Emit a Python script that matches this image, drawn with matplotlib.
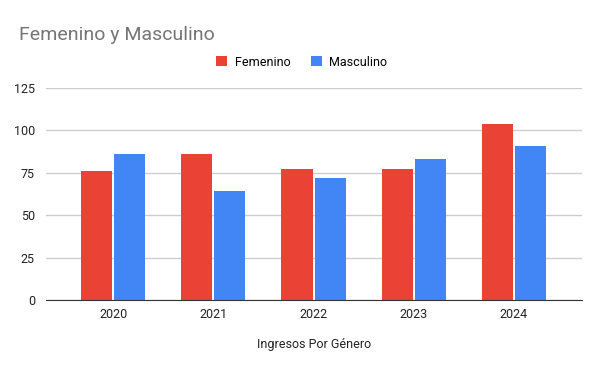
import numpy as np
import matplotlib.pyplot as plt

plt.rcParams['font.family'] = ['Roboto', 'DejaVu Sans']

years = ['2020', '2021', '2022', '2023', '2024']
femenino = [76, 86, 77, 77, 104]
masculino = [86, 64, 72, 83, 91]

red = '#EA4335'
blue = '#4285F4'

fig = plt.figure(figsize=(6, 3.71), dpi=100)
ax = fig.add_axes([0.0767, 0.1914, 0.8933, 0.5714])

x = np.arange(len(years))
w = 0.31
ax.bar(x - w / 2 - 0.01, femenino, w, color=red, label='Femenino')
ax.bar(x + w / 2 + 0.01, masculino, w, color=blue, label='Masculino')

ax.set_xlim(-0.67, 4.68)
ax.set_ylim(0, 125)
ax.set_yticks([0, 25, 50, 75, 100, 125])
ax.set_xticks(x)
ax.set_xticklabels(years)
ax.grid(axis='y', color='#cccccc', linewidth=1)
ax.set_axisbelow(True)
for s in ['top', 'right', 'left']:
    ax.spines[s].set_visible(False)
ax.spines['bottom'].set_color('#333333')
ax.spines['bottom'].set_zorder(5)
ax.tick_params(axis='both', length=0, labelsize=9, colors='#222222')
ax.tick_params(axis='x', pad=6)
ax.tick_params(axis='y', pad=8)
ax.set_xlabel('Ingresos Por Género', fontsize=9, color='#222222', labelpad=12)

fig.text(0.032, 1 - 35 / 371, 'Femenino y Masculino', fontsize=14, color='#757575',
         va='center', ha='left')
fig.legend(loc='center', bbox_to_anchor=(0.503, 1 - 62 / 371), ncol=2, frameon=False,
           fontsize=9, handlelength=0.9, handleheight=0.9, columnspacing=1.6,
           handletextpad=0.6)

fig.savefig('out.png', dpi=100)
